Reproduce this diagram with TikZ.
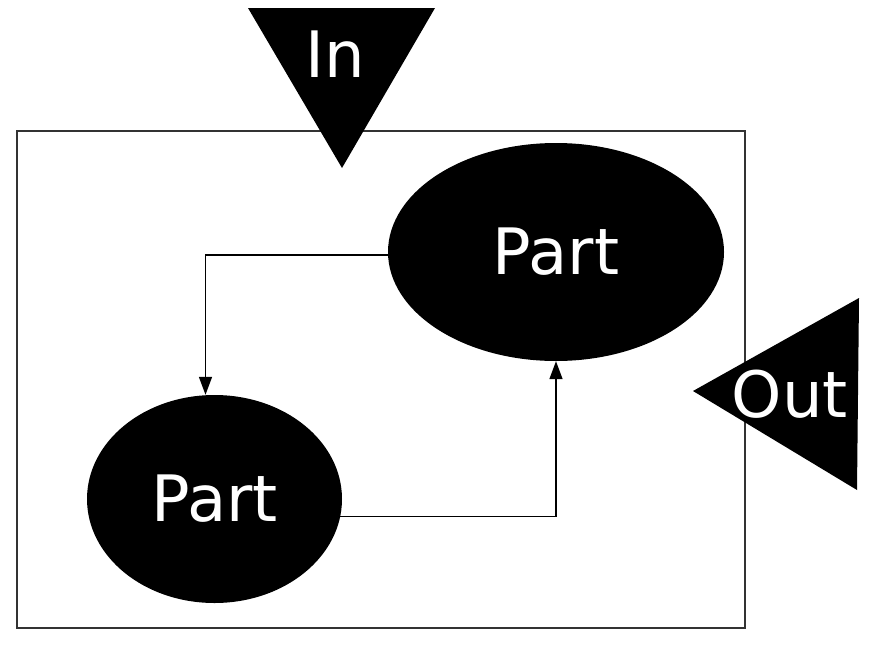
\documentclass[tikz,border=0pt]{standalone}
\usepackage{fontspec}
\setmainfont{DejaVu Sans}
\usetikzlibrary{shapes.geometric,arrows.meta}
\begin{document}
\begin{tikzpicture}[x=1pt,y=-1pt,
  part/.style={ellipse, fill=black, text=white, inner sep=0pt,
    font=\fontsize{64}{70}\selectfont},
  port/.style={fill=black},
  portlabel/.style={text=white, inner sep=0pt, anchor=base,
    font=\fontsize{64}{70}\selectfont},
  frame/.style={draw=black!80, line width=1.4pt},
  link/.style={draw=black, line width=1.6pt,
    -{Triangle[length=18pt,width=13pt]}}]
  \useasboundingbox (0,0) rectangle (883,645);

  % enclosing component boundary
  \draw[frame] (17,131) rectangle (745,628);

  % parts
  \node[part, minimum width=336pt, minimum height=218pt] (top) at (556,252) {Part};
  \node[part, minimum width=255pt, minimum height=208pt] (bot) at (214.5,499) {Part};

  % ports
  \coordinate (inA) at (248,8);
  \coordinate (inB) at (435,8);
  \coordinate (inC) at (342,168);
  \fill[port] (inA) -- (inB) -- (inC) -- cycle;
  \node[portlabel] (inlabel) at (335,77) {In};

  \coordinate (outA) at (859,298);
  \coordinate (outB) at (857,490);
  \coordinate (outC) at (693,391);
  \fill[port] (outA) -- (outB) -- (outC) -- cycle;
  \node[portlabel] (outlabel) at (790,417) {Out};

  % connectors between parts
  \draw[link] (top.181) -| ([xshift=-9pt]bot.north);
  \draw[link] (bot.-8.6) -| (top.south);
\end{tikzpicture}
\end{document}
